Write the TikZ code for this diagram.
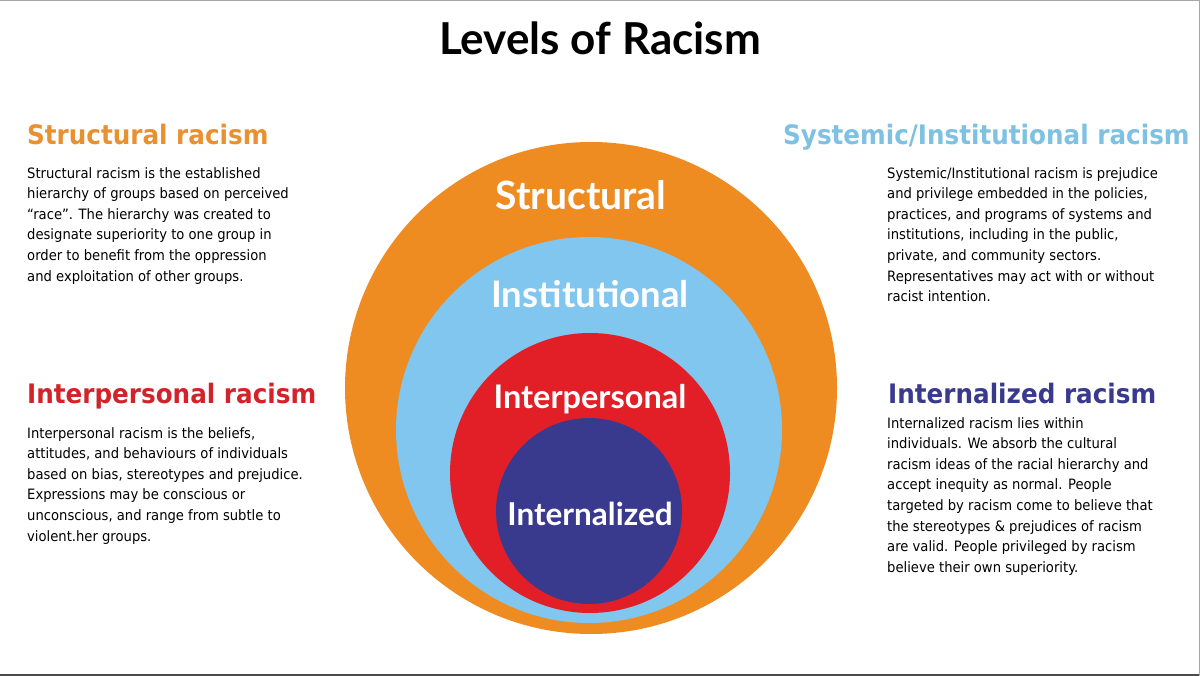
\documentclass[tikz,border=0pt]{standalone}
\usepackage{fontspec}
\setmainfont{DejaVu Sans}
\newfontfamily\narrowfont[FakeStretch = 0.92]{DejaVu Sans}
\newfontfamily\gillfont{Lato}
\usepackage{tikz}
\usetikzlibrary{calc}
\definecolor{structorange}{RGB}{238,140,34}
\definecolor{headorange}{RGB}{232,145,48}
\definecolor{instblue}{RGB}{128,198,238}
\definecolor{headblue}{RGB}{126,193,227}
\definecolor{interred}{RGB}{226,31,38}
\definecolor{headred}{RGB}{210,35,42}
\definecolor{internblue}{RGB}{57,58,142}
\tikzset{
  heading/.style = {anchor = base west, inner sep = 0pt, font = \narrowfont\fontsize{26.8}{30}\selectfont\bfseries},
  bodytext/.style = {anchor = north west, inner sep = 0pt, align = left, font = \narrowfont\fontsize{14.3}{20.6}\selectfont},
  ringlabel/.style = {anchor = base, inner sep = 0pt, text = white, font = \gillfont\fontsize{#1}{#1}\selectfont\bfseries}
}
\begin{document}
\begin{tikzpicture}[x = 1pt, y = -1pt]
                \useasboundingbox (0,0) rectangle (1200,676);
                \path[draw, color = gray!70, line width = 1.2pt](0,0.6) to (1200,0.6);
                \path[draw, color = black!70, line width = 1.6pt](0,675.2) to (1200,675.2);
                \path[draw, color = gray!70, line width = 1pt](1199.5,0) to (1199.5,676);
                \coordinate(S) at (591,388);
                \coordinate(I) at (589,430);
                \coordinate(P) at (590,473);
                \coordinate(N) at (589,511);
                \path[fill = structorange](S) circle[radius = 246pt];
                \path[fill = instblue](I) circle[radius = 193pt];
                \path[fill = interred](P) circle[radius = 140pt];
                \path[fill = internblue](N) circle[radius = 93pt];
                \node[anchor = base, inner sep = 0pt, font = \gillfont\fontsize{44}{50}\selectfont\bfseries](title) at (600,55) {Levels of Racism};
                \node[ringlabel = 39](structural) at (581,210) {Structural};
                \node[ringlabel = 36.5](institutional) at (590,308) {Institutional};
                \node[ringlabel = 32.5](interpersonal) at (590,409) {Interpersonal};
                \node[ringlabel = 31.5](internalized) at (590,525) {Internalized};
                \node[heading, text = headorange](structhead) at (27,145) {Structural racism};
                \node[heading, text = headred](interhead) at (27,403) {Interpersonal racism};
                \node[heading, text = headblue](insthead) at (783,145) {Systemic/Institutional racism};
                \node[heading, text = internblue](internhead) at (888,403) {Internalized racism};
                \node[bodytext](structbody) at (27,167) {Structural racism is the established\\
                    hierarchy of groups based on perceived\\
                    “race”. The hierarchy was created to\\
                    designate superiority to one group in\\
                    order to benefit from the oppression\\
                    and exploitation of other groups.};
                \node[bodytext](interbody) at (27,427) {Interpersonal racism is the beliefs,\\
                    attitudes, and behaviours of individuals\\
                    based on bias, stereotypes and prejudice.\\
                    Expressions may be conscious or\\
                    unconscious, and range from subtle to\\
                    violent.her groups.};
                \node[bodytext](instbody) at (887,167) {Systemic/Institutional racism is prejudice\\
                    and privilege embedded in the policies,\\
                    practices, and programs of systems and\\
                    institutions, including in the public,\\
                    private, and community sectors.\\
                    Representatives may act with or without\\
                    racist intention.};
                \node[bodytext](internbody) at (887,417) {Internalized racism lies within\\
                    individuals. We absorb the cultural\\
                    racism ideas of the racial hierarchy and\\
                    accept inequity as normal. People\\
                    targeted by racism come to believe that\\
                    the stereotypes \& prejudices of racism\\
                    are valid. People privileged by racism\\
                    believe their own superiority.};
            \end{tikzpicture}
\end{document}
